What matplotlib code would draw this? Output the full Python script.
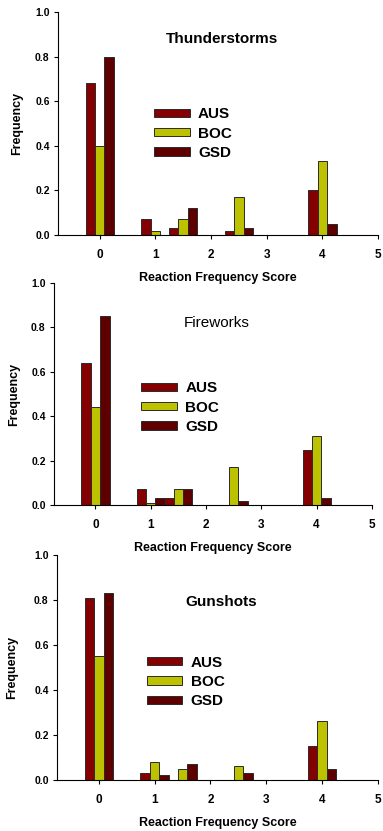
import numpy as np
import matplotlib
matplotlib.use("Agg")
import matplotlib.pyplot as plt

plt.rcParams["font.family"] = ["Liberation Sans", "DejaVu Sans"]

scores = [0, 1, 1.5, 2.5, 4]
groups = ["AUS", "BOC", "GSD"]

thunder_aus = [0.68, 0.07, 0.03, 0.02, 0.20]
thunder_boc = [0.40, 0.02, 0.07, 0.17, 0.33]
thunder_gsd = [0.80, 0.00, 0.12, 0.03, 0.05]

fire_aus = [0.64, 0.07, 0.03, 0.00, 0.25]
fire_boc = [0.44, 0.01, 0.07, 0.17, 0.31]
fire_gsd = [0.85, 0.03, 0.07, 0.02, 0.03]

gun_aus = [0.81, 0.03, 0.00, 0.00, 0.15]
gun_boc = [0.55, 0.08, 0.05, 0.06, 0.26]
gun_gsd = [0.83, 0.02, 0.07, 0.03, 0.05]

colors = ["#850000", "#BDC200", "#5E0000"]

fig = plt.figure(figsize=(3.83, 8.31), dpi=100)

panels = [
    # title, data, axes rect, title pos, title weight, legend anchor, ylabel x
    ("Thunderstorms", (thunder_aus, thunder_boc, thunder_gsd),
     [0.1514, 0.7172, 0.8355, 0.2684], (2.2, 0.88), "bold", (0.28, 0.60), -0.11),
    ("Fireworks", (fire_aus, fire_boc, fire_gsd),
     [0.141, 0.3923, 0.830, 0.2671], (2.19, 0.82), "normal", (0.255, 0.585), -0.107),
    ("Gunshots", (gun_aus, gun_boc, gun_gsd),
     [0.1488, 0.0614, 0.838, 0.2708], (2.2, 0.79), "bold", (0.26, 0.58), -0.12),
]

width = 0.17
offsets = [-width, 0, width]
x = np.array(scores)

for title, data, rect, tpos, tweight, lpos, ylx in panels:
    ax = fig.add_axes(rect)
    ax.patch.set_visible(False)
    for vals, off, col, name in zip(data, offsets, colors, groups):
        ax.bar(x + off, vals, width=width, color=col, edgecolor="#2a2a2a",
               linewidth=0.7, label=name)
    ax.set_xlim(-0.75, 5)
    ax.set_ylim(0, 1.0)
    ax.set_xticks([0, 1, 2, 3, 4, 5])
    ax.set_yticks([0.0, 0.2, 0.4, 0.6, 0.8, 1.0])
    ax.set_yticklabels(["0.0", "0.2", "0.4", "0.6", "0.8", "1.0"])
    ax.spines["top"].set_visible(False)
    ax.spines["right"].set_visible(False)
    ax.tick_params(direction="out", length=3, width=0.8, pad=3)
    ax.tick_params(axis="y", labelsize=7.5)
    ax.tick_params(axis="x", labelsize=8.5, pad=7)
    for lab in ax.get_xticklabels() + ax.get_yticklabels():
        lab.set_fontweight("bold")
    ax.set_xlabel("Reaction Frequency Score", fontsize=9, fontweight="bold", labelpad=8)
    ax.set_ylabel("Frequency", fontsize=9, fontweight="bold")
    ax.yaxis.set_label_coords(ylx, 0.5)
    ax.text(tpos[0], tpos[1], title, ha="center", va="center", fontsize=11,
            fontweight=tweight)
    ax.legend(loc="upper left", bbox_to_anchor=lpos, frameon=False,
              handlelength=2.35, handleheight=0.45, labelspacing=0.35,
              handletextpad=0.55, borderaxespad=0,
              prop={"size": 11, "weight": "bold"})

fig.savefig("out.png", dpi=100)
